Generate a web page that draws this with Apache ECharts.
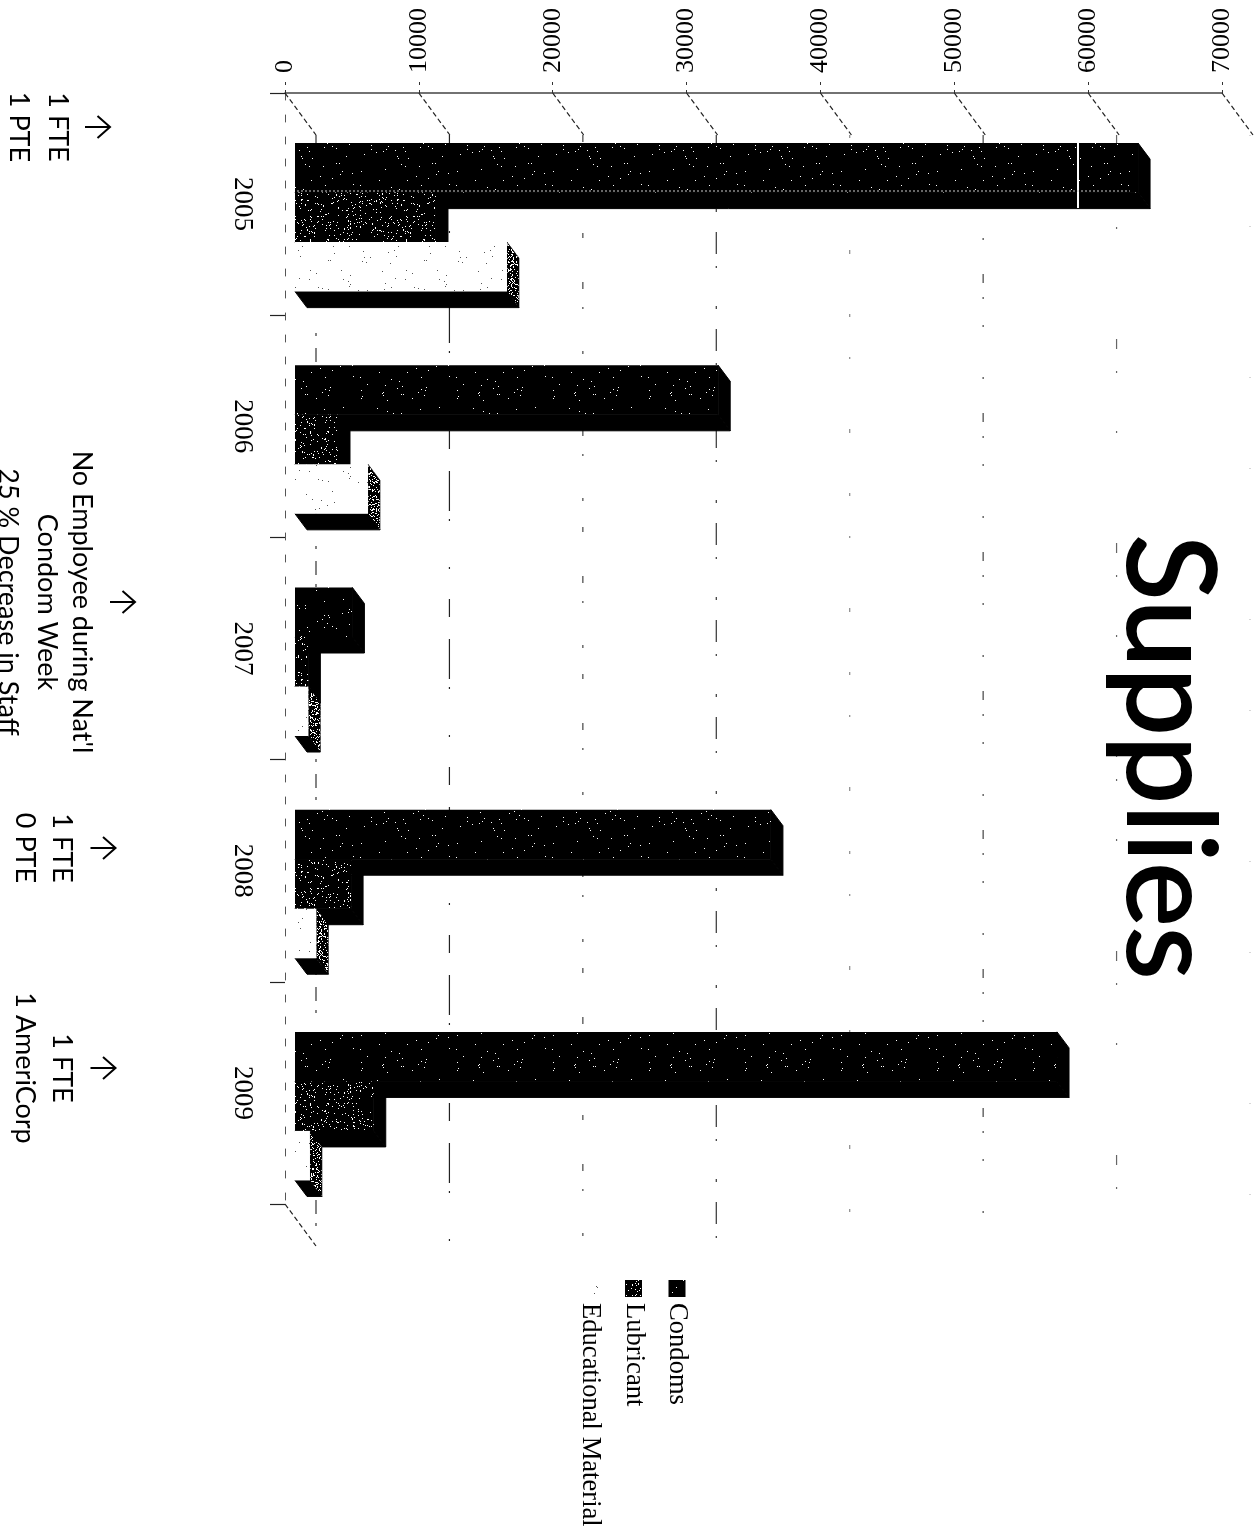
<!DOCTYPE html>
<html>
<head>
<meta charset="utf-8">
<style>html,body{margin:0;padding:0;background:#fff;overflow:hidden}#c{width:1259px;height:1529px}</style>
<script src="https://cdn.jsdelivr.net/npm/echarts@6/dist/echarts.min.js"></script>
</head>
<body>
<div id="c"></div>
<script>
const categories = ['2005', '2006', '2007', '2008', '2009'];
const condoms = [63150, 31700, 4300, 35650, 57080];
const lubricant = [10560, 3220, 1000, 4200, 5900];
const educational = [15880, 5470, 1000, 1600, 1120];
const seriesNames = ['Condoms', 'Lubricant', 'Educational Material'];
const valueTicks = [0, 10000, 20000, 30000, 40000, 50000, 60000, 70000];
const noteLines = [
  [["1 FTE", "1 PTE"], 127],
  [["No Employee during Nat'l", "Condom Week", "25 % Decrease in Staff"], 602],
  [["1 FTE", "0 PTE"], 848],
  [["1 FTE", "1 AmeriCorp"], 1068]
];

// speckled, scan-like fills (fixed pseudo-dither, purely a texture)
function speckle(bg, fg, density, seed) {
  const s = 96, cv = document.createElement('canvas');
  cv.width = cv.height = s;
  const g = cv.getContext('2d');
  g.fillStyle = bg; g.fillRect(0, 0, s, s);
  g.fillStyle = fg;
  let h = seed;
  for (let y = 0; y < s; y++) for (let x = 0; x < s; x++) {
    h = (h * 1103515245 + 12345) & 0x7fffffff;
    if ((h >> 8) % 1000 < density) g.fillRect(x, y, 1, 1);
  }
  return { image: cv, repeat: 'repeat' };
}
const fills = [
  speckle('#000', '#fff', 9, 7),
  speckle('#000', '#fff', 55, 11),
  speckle('#fff', '#555', 6, 23)
];
const sideFills = ['#000', '#000', speckle('#000', '#fff', 200, 31)];

const BAR = 0.2228, START = -0.2745, DX = 12, DY = 16;
function barRender(idx) {
  return function (params, api) {
    const cat = api.value(0), v = api.value(1);
    const p0 = api.coord([0, cat]), p1 = api.coord([v, cat]);
    const band = api.size([0, 1])[1];
    const y0 = p0[1] + (START + idx * BAR) * band, y1 = y0 + BAR * band, x0 = p0[0], xe = p1[0];
    return { type: 'group', children: [
      { type: 'polygon', shape: { points: [[x0, y1], [xe, y1], [xe + DX, y1 + DY], [x0 + DX, y1 + DY]] }, style: { fill: '#000', stroke: '#000', lineWidth: 1 } },
      { type: 'polygon', shape: { points: [[xe, y0], [xe + DX, y0 + DY], [xe + DX, y1 + DY], [xe, y1]] }, style: { fill: sideFills[idx], stroke: '#000', lineWidth: idx === 2 ? 0.6 : 1 } },
      { type: 'rect', shape: { x: x0, y: y0, width: xe - x0, height: y1 - y0 }, style: { fill: fills[idx] } }
    ] };
  };
}
function barSeries(name, vals, idx) {
  return { name, type: 'custom', xAxisIndex: 1, yAxisIndex: 1, z: 5 + idx,
    data: vals.map((v, i) => [i, v]), encode: { x: 1, y: 0 }, renderItem: barRender(idx), clip: false };
}
function connector(a, b) {
  return { type: 'line', shape: { x1: a[0], y1: a[1], x2: b[0], y2: b[1] },
    style: { stroke: '#222', lineWidth: 1.2, lineDash: [5, 3] } };
}
// broken-up back-wall gridlines, as left by the scan
const wallDash = [
  [14, 9, 3, 30, 3, 12],
  [40, 8, 2, 46, 2, 30, 18, 22],
  [7, 18, 2, 42, 3, 26, 5, 44],
  [22, 12, 2, 38, 3, 20],
  [3, 40, 2, 70, 4, 60],
  [9, 14, 2, 26, 2, 50, 2, 34],
  [10, 22, 2, 58, 2, 110],
  [1, 90, 1, 150]
];
const wallColor = ['#333', '#222', '#444', '#333', '#888', '#444', '#666', '#bbb'];
const serif = '"Liberation Serif"', sans = 'Lato';

const graphics = [];
graphics.push({ type: 'text', x: 1167, y: 757, rotation: -Math.PI / 2, z: 20,
  style: { text: 'Supplies', font: '122px ' + sans, fill: '#000', stroke: '#000', lineWidth: 2, textAlign: 'center', textVerticalAlign: 'middle' } });
seriesNames.forEach((n, i) => {
  const cx = 677 - i * 43.5;
  graphics.push({ type: 'rect', shape: { x: cx - 8.5, y: 1280, width: 17, height: 17 }, style: { fill: fills[i] }, z: 20 });
  graphics.push({ type: 'text', x: cx, y: 1303, rotation: -Math.PI / 2, z: 20,
    style: { text: n, font: '26.6px ' + serif, fill: '#000', textAlign: 'left', textVerticalAlign: 'middle' } });
});
const noteX = [[58, 19], [82, 47, 8], [62, 25], [62, 25]];
const arrowX = [97.5, 122.5, 103, 103];
noteLines.forEach((g, i) => {
  g[0].forEach((t, j) => graphics.push({ type: 'text', x: noteX[i][j], y: g[1], rotation: -Math.PI / 2, z: 20,
    style: { text: t, font: '27px ' + sans, fill: '#000', textAlign: 'center', textVerticalAlign: 'middle' } }));
  const ax = arrowX[i], ay = g[1];
  graphics.push({ type: 'polyline', z: 20, shape: { points: [[ax - 12.5, ay], [ax + 12.5, ay]] }, style: { stroke: '#000', lineWidth: 2, fill: 'none' } });
  graphics.push({ type: 'polyline', z: 20, shape: { points: [[ax, ay - 11], [ax + 12.5, ay], [ax, ay + 11]] }, style: { stroke: '#000', lineWidth: 2, fill: 'none' } });
});
// scanner artefacts across the first bar
graphics.push({ type: 'rect', shape: { x: 1077, y: 143, width: 2, height: 65 }, style: { fill: '#fff' }, z: 30 });
graphics.push({ type: 'line', shape: { x1: 297, y1: 191, x2: 1130, y2: 191 }, style: { stroke: '#ccc', lineWidth: 1, lineDash: [2, 2] }, z: 30 });

const hiddenCat = { type: 'category', data: categories, inverse: true, show: false };
const option = {
  animation: false,
  backgroundColor: '#fff',
  grid: [
    { left: 285, top: 93, width: 937, height: 1111 },
    { left: 295, top: 93, width: 934.5, height: 1111 },
    { left: 316, top: 135, width: 934, height: 1110 }
  ],
  xAxis: [
    { gridIndex: 0, type: 'value', position: 'top', min: 0, max: 70000, interval: 10000,
      axisLine: { show: true, onZero: false, lineStyle: { color: '#444', width: 1.5 } },
      axisTick: { show: true, length: 14, lineStyle: { color: '#333', type: [3, 5] } },
      splitLine: { show: false },
      axisLabel: { rotate: -90, margin: 20, fontFamily: serif, fontSize: 26, color: '#000',
        formatter: v => String(v) } },
    { gridIndex: 1, type: 'value', min: 0, max: 70000, interval: 10000, show: false, splitLine: { show: false } },
    { gridIndex: 2, type: 'value', min: 0, max: 70000, interval: 10000, show: false, splitLine: { show: false } }
  ],
  yAxis: [
    { gridIndex: 0, type: 'category', data: categories, inverse: true, position: 'left',
      axisLine: { show: true, onZero: false, lineStyle: { color: '#555', type: [7, 15] } },
      axisTick: { show: true, length: 15, lineStyle: { color: '#222', width: 1.2 } },
      axisLabel: { rotate: -90, margin: 29, fontFamily: serif, fontSize: 27, color: '#000' } },
    Object.assign({ gridIndex: 1 }, hiddenCat),
    Object.assign({ gridIndex: 2 }, hiddenCat)
  ],
  series: [
    { type: 'custom', name: 'wall', xAxisIndex: 0, yAxisIndex: 0, z: 2, silent: true, clip: false,
      data: valueTicks.map(v => [0, v]), encode: { x: 1, y: 0 },
      renderItem(params, api) {
        const p = api.coord([api.value(1), 0]);
        const band = api.size([0, 1])[1];
        const a = [p[0], p[1] - band / 2];
        const kids = [connector(a, [a[0] + 31, a[1] + 42])];
        if (api.value(1) === 0) {
          const q = [a[0], a[1] + band * categories.length];
          kids.push(connector(q, [q[0] + 31, q[1] + 42]));
        }
        return { type: 'group', children: kids };
      } },
    { type: 'custom', name: 'back wall', xAxisIndex: 2, yAxisIndex: 2, z: 3, silent: true, clip: false,
      data: valueTicks.map(v => [0, v]), encode: { x: 1, y: 0 },
      renderItem(params, api) {
        const i = params.dataIndex;
        const p = api.coord([api.value(1), 0]);
        const band = api.size([0, 1])[1];
        const top = p[1] - band / 2;
        return { type: 'line', shape: { x1: p[0], y1: top, x2: p[0], y2: top + band * categories.length },
          style: { stroke: wallColor[i], lineWidth: 1.2, lineDash: wallDash[i] } };
      } },
    barSeries(seriesNames[0], condoms, 0),
    barSeries(seriesNames[1], lubricant, 1),
    barSeries(seriesNames[2], educational, 2)
  ],
  graphic: { elements: graphics }
};
const chart = echarts.init(document.getElementById('c'), null, { renderer: 'canvas' });
chart.setOption(option);
</script>
</body>
</html>
